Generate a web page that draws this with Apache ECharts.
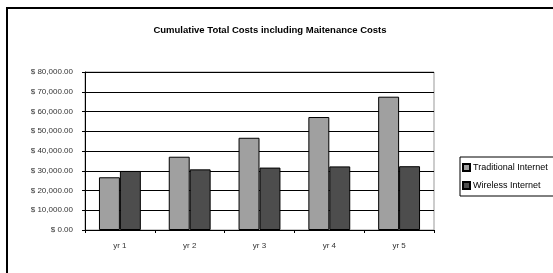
<!DOCTYPE html>
<html><head><meta charset="utf-8">
<script src="https://cdn.jsdelivr.net/npm/echarts@6/dist/echarts.min.js"></script>
<style>html,body{margin:0;padding:0;background:#fff}#c{width:553px;height:273px}</style>
</head><body><div id="c"></div>
<script>
const categories = ['yr 1','yr 2','yr 3','yr 4','yr 5'];
const traditional = [26700, 37100, 46700, 57200, 67500];
const wireless = [29900, 30700, 31600, 32200, 32300];
const seriesNames = ['Traditional Internet','Wireless Internet'];
const titleText = 'Cumulative Total Costs including Maitenance Costs';

function fmt(v){
  const s = v.toFixed(2).replace(/\B(?=(\d{3})+(?!\d))/g, ',');
  return '$ ' + s;
}
const chart = echarts.init(document.getElementById('c'), null, {renderer:'canvas'});
chart.setOption({
  animation:false,
  backgroundColor:'#fff',
  graphic:[{type:'rect', shape:{x:7,y:8,width:560,height:280}, style:{fill:'none', stroke:'#000', lineWidth:2}, z:-1}],
  title:{text:titleText, left:265, top:20, textAlign:'center',
    textStyle:{fontFamily:'Liberation Sans, Arial', fontSize:9.5, fontWeight:'bold', color:'#000'}},
  legend:{orient:'vertical', left:460, top:157, itemWidth:7, itemHeight:7, itemGap:9,
    padding:[6,8,6,2], borderColor:'#000', borderWidth:1,
    textStyle:{fontFamily:'Liberation Sans, Arial', fontSize:9, color:'#000', padding:[0,0,0,-2]},
    data:seriesNames.map(n=>({name:n, icon:'rect'}))},
  grid:{left:85, right:119, top:72, bottom:43, show:true, borderColor:'#999', borderWidth:1},
  xAxis:{type:'category', data:categories,
    axisLine:{lineStyle:{color:'#000', width:1}},
    axisTick:{show:true, length:3, inside:false, lineStyle:{color:'#000'}},
    axisLabel:{fontFamily:'Liberation Sans, Arial', fontSize:8, color:'#333', margin:12}},
  yAxis:{type:'value', min:0, max:80000, interval:10000,
    axisLine:{show:true, lineStyle:{color:'#000'}},
    axisTick:{show:true, length:3, lineStyle:{color:'#000'}},
    splitLine:{lineStyle:{color:'#000', width:1}},
    axisLabel:{formatter:fmt, fontFamily:'Liberation Sans, Arial', fontSize:8, color:'#333', margin:12}},
  series:[
    {name:seriesNames[0], type:'bar', data:traditional, barGap:'0%', barCategoryGap:'40%',
      itemStyle:{color:'#a0a0a0', borderColor:'#000', borderWidth:1}},
    {name:seriesNames[1], type:'bar', data:wireless,
      itemStyle:{color:'#4d4d4d', borderColor:'#000', borderWidth:1}}
  ]
});
</script></body></html>
